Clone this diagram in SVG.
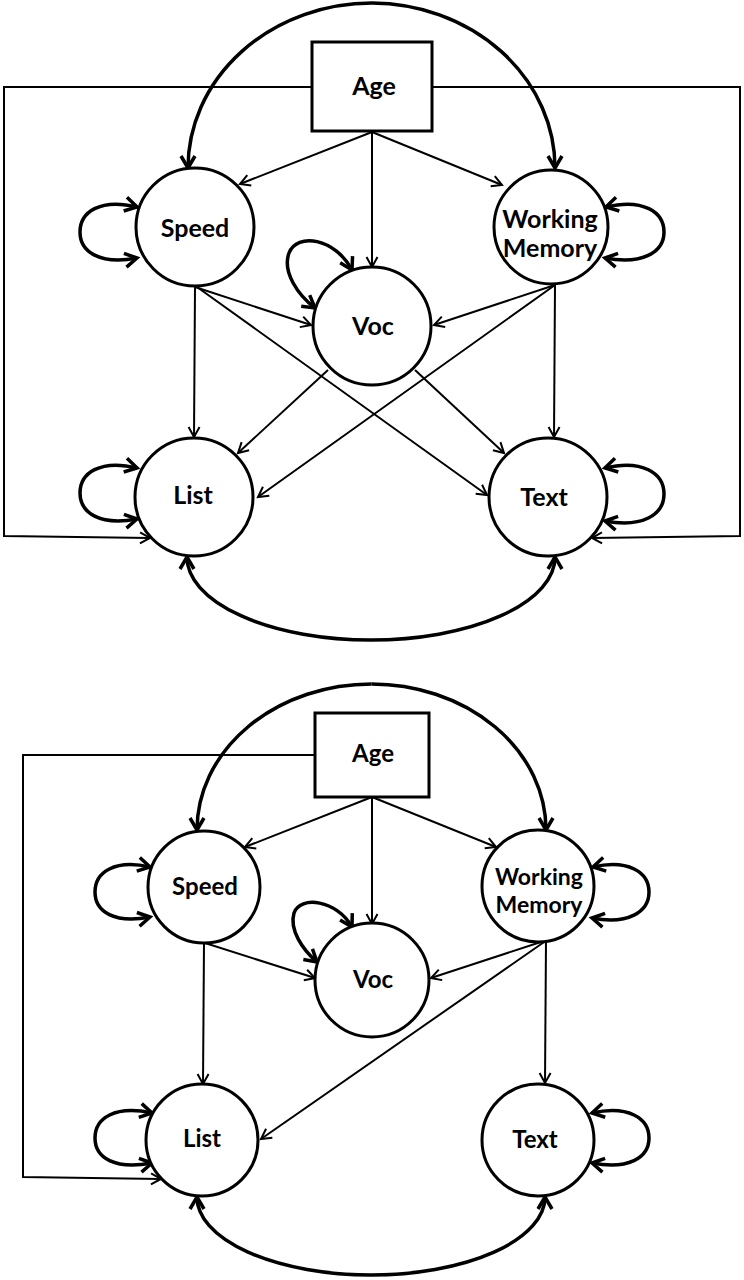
<svg xmlns="http://www.w3.org/2000/svg" width="744" height="1280" viewBox="0 0 744 1280">
<style>
.node{fill:#fff;stroke:#000;stroke-width:3}
.lbl{font-family:Lato,"Open Sans","Liberation Sans",sans-serif;font-weight:bold;font-size:25px;text-anchor:middle;fill:#000}
.lbl2{font-family:Lato,"Open Sans","Liberation Sans",sans-serif;font-weight:bold;font-size:24px;text-anchor:middle;fill:#000}
.lbl3{font-family:Lato,"Open Sans","Liberation Sans",sans-serif;font-weight:bold;font-size:23px;text-anchor:middle;fill:#000}
.thin{fill:none;stroke:#000;stroke-width:2;marker-end:url(#a)}
.thick{fill:none;stroke:#000;stroke-width:3.5;marker-start:url(#b);marker-end:url(#b)}
.arcone{fill:none;stroke:#000;stroke-width:3.5;marker-end:url(#b)}
</style>
<defs>
<marker id="a" markerUnits="userSpaceOnUse" viewBox="-16 -10 20 20" markerWidth="20" markerHeight="20" refX="0" refY="0" orient="auto" overflow="visible">
<path d="M-10,-5.5 L0,0 L-10,5.5" fill="none" stroke="#000" stroke-width="2"/>
</marker>
<marker id="b" markerUnits="userSpaceOnUse" viewBox="-18 -10 22 20" markerWidth="22" markerHeight="20" refX="0" refY="0" orient="auto-start-reverse" overflow="visible">
<path d="M-12,-7 L0,0 L-12,7" fill="none" stroke="#000" stroke-width="3.5"/>
</marker>
</defs>

<g id="connectors-top">
<path class="arcone" d="M372,3 A184,165 0 0 0 188,168"/>
<path class="arcone" d="M372,3 A184,165 0 0 1 555,168"/>
<polyline class="thin" points="312,87 4,87 4,536 150,538"/>
<polyline class="thin" points="432,87 740,87 740,536 592,538"/>
<line class="thin" x1="372" y1="132" x2="240" y2="184"/>
<line class="thin" x1="372" y1="132" x2="372" y2="267"/>
<line class="thin" x1="372" y1="132" x2="502" y2="185"/>
<line class="thin" x1="195" y1="287" x2="194" y2="437"/>
<line class="thin" x1="195" y1="287" x2="311" y2="325"/>
<line class="thin" x1="197" y1="287" x2="487" y2="495"/>
<line class="thin" x1="555" y1="285" x2="434" y2="325"/>
<line class="thin" x1="555" y1="285" x2="258" y2="497"/>
<line class="thin" x1="555" y1="285" x2="554" y2="437"/>
<line class="thin" x1="328" y1="370" x2="238" y2="453"/>
<line class="thin" x1="415" y1="370" x2="504" y2="453"/>
<path class="thick" d="M137,207 C100,198 80,212 80,232 C80,252 100,265 137,258"/>
<path class="thick" d="M606,207 C643,198 664,212 664,232 C664,252 643,265 605,258"/>
<path class="thick" d="M137,468 C100,459 80,473 80,493 C80,513 100,526 137,519"/>
<path class="thick" d="M605,468 C642,459 664,473 664,494 C664,515 642,528 605,521"/>
<path class="thick" d="M352,270 C335,238 297,232 289,253 C282,272 298,295 315,308"/>
<path class="thick" d="M187,557 A184,83 0 0 0 555,557"/>
</g>

<g id="top-age"><rect class="node" x="312" y="42" width="120" height="89"/><text class="lbl" x="374" y="95">Age</text></g>
<g id="top-speed"><circle class="node" cx="195" cy="227" r="59"/><text class="lbl" x="195" y="237">Speed</text></g>
<g id="top-wm"><circle class="node" cx="551" cy="227" r="57"/><text class="lbl" x="550" y="228">Working</text><text class="lbl" x="550" y="257">Memory</text></g>
<g id="top-voc"><circle class="node" cx="372" cy="326" r="59"/><text class="lbl" x="373" y="335">Voc</text></g>
<g id="top-list"><circle class="node" cx="194" cy="497" r="59"/><text class="lbl" x="193" y="504">List</text></g>
<g id="top-text"><circle class="node" cx="548" cy="497" r="59"/><text class="lbl" x="544" y="506">Text</text></g>

<g id="connectors-bottom">
<path class="arcone" d="M371.5,684 A174.5,146 0 0 0 197,830"/>
<path class="arcone" d="M371.5,684 A174.5,146 0 0 1 546,830"/>
<polyline class="thin" points="315,755 23,755 23,1177 161,1179"/>
<line class="thin" x1="372" y1="797" x2="245" y2="847"/>
<line class="thin" x1="372" y1="797" x2="372" y2="924"/>
<line class="thin" x1="372" y1="797" x2="496" y2="847"/>
<line class="thin" x1="204" y1="943" x2="203" y2="1084"/>
<line class="thin" x1="205" y1="943" x2="315" y2="978"/>
<line class="thin" x1="547" y1="940" x2="431" y2="978"/>
<line class="thin" x1="547" y1="940" x2="261" y2="1139"/>
<line class="thin" x1="546" y1="940" x2="545" y2="1083"/>
<path class="thick" d="M150,867 C115,859 95,872 95,892 C95,912 115,924 150,917"/>
<path class="thick" d="M593,867 C628,859 649,872 649,892 C649,912 628,925 592,918"/>
<path class="thick" d="M152,1113 C115,1105 95,1118 95,1138 C95,1158 115,1170 152,1163"/>
<path class="thick" d="M592,1113 C628,1105 649,1118 649,1138 C649,1158 628,1170 592,1163"/>
<path class="thick" d="M352,927 C337,900 300,895 294,913 C289,930 303,950 317,962"/>
<path class="thick" d="M197,1197 A174,78 0 0 0 545,1197"/>
</g>

<g id="bottom-age"><rect class="node" x="315" y="713" width="114" height="84"/><text class="lbl2" x="373" y="762">Age</text></g>
<g id="bottom-speed"><circle class="node" cx="204" cy="887" r="56"/><text class="lbl2" x="205" y="895">Speed</text></g>
<g id="bottom-wm"><circle class="node" cx="538" cy="886" r="56"/><text class="lbl3" x="539" y="885">Working</text><text class="lbl3" x="539" y="913">Memory</text></g>
<g id="bottom-voc"><circle class="node" cx="372" cy="980" r="57"/><text class="lbl2" x="373" y="988">Voc</text></g>
<g id="bottom-list"><circle class="node" cx="202" cy="1140" r="56"/><text class="lbl2" x="202" y="1147">List</text></g>
<g id="bottom-text"><circle class="node" cx="538" cy="1140" r="56"/><text class="lbl2" x="535" y="1148">Text</text></g>
</svg>
